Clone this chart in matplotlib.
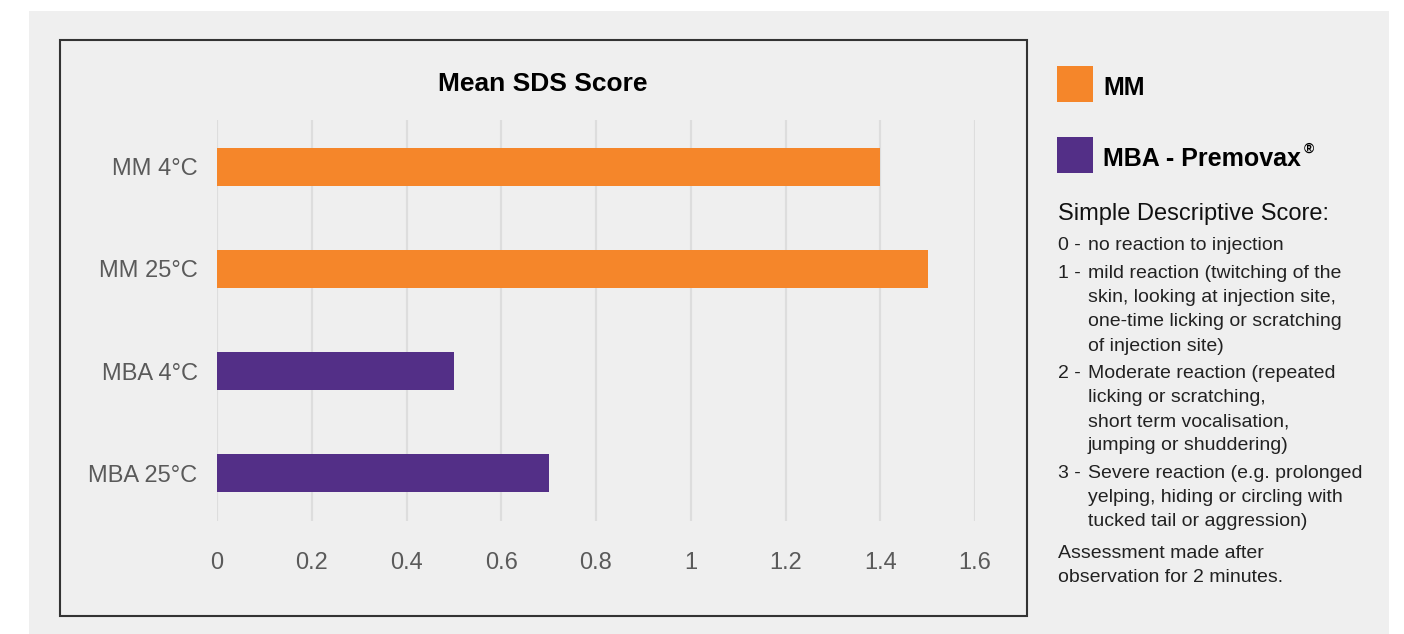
import matplotlib
matplotlib.use("Agg")
import matplotlib.pyplot as plt
from matplotlib.patches import Rectangle

plt.rcParams['font.family'] = ['Liberation Sans', 'DejaVu Sans']

# data
categories = ['MM 4°C', 'MM 25°C', 'MBA 4°C', 'MBA 25°C']
scores = [1.40, 1.50, 0.50, 0.70]
groups = ['MM', 'MM', 'MBA', 'MBA']
x_ticks = [0, 0.2, 0.4, 0.6, 0.8, 1.0, 1.2, 1.4, 1.6]
x_tick_labels = ['0', '0.2', '0.4', '0.6', '0.8', '1', '1.2', '1.4', '1.6']
legend_labels = {'MM': 'MM', 'MBA': 'MBA - Premovax'}
colors = {'MM': '#F5862A', 'MBA': '#532F87'}
score_title = 'Simple Descriptive Score:'
score_notes = [
    ('0 -', ['no reaction to injection']),
    ('1 -', ['mild reaction (twitching of the', 'skin, looking at injection site,',
             'one-time licking or scratching', 'of injection site)']),
    ('2 -', ['Moderate reaction (repeated', 'licking or scratching,',
             'short term vocalisation,', 'jumping or shuddering)']),
    ('3 -', ['Severe reaction (e.g. prolonged', 'yelping, hiding or circling with',
             'tucked tail or aggression)']),
]
footnote = ['Assessment made after', 'observation for 2 minutes.']

W, H = 1404, 634
fig = plt.figure(figsize=(W / 100, H / 100), dpi=100, facecolor='white')

def px(x, y):
    return x / W, 1 - y / H

# gray panel + chart box
fig.patches.append(Rectangle((29 / W, 0), 1360 / W, 623 / H, transform=fig.transFigure,
                             facecolor='#EFEFEF', edgecolor='none', zorder=-5))
fig.patches.append(Rectangle((60 / W, 18 / H), 967 / W, 576 / H, transform=fig.transFigure,
                             facecolor='none', edgecolor='#333333', linewidth=1.5, zorder=-4))

ax = fig.add_axes([217 / W, 113 / H, 758 / W, 401 / H])
ax.set_zorder(2)
ax.set_facecolor('none')
ypos = list(range(len(categories)))
ax.barh(ypos, scores, height=0.37, color=[colors[g] for g in groups], zorder=3)
ax.set_xlim(0, 1.6)
ax.set_ylim(3.47, -0.46)
ax.set_xticks(x_ticks)
ax.set_xticklabels(x_tick_labels)
ax.set_yticks(ypos)
ax.set_yticklabels(categories)
ax.tick_params(length=0, labelsize=17, labelcolor='#5A5A5A')
ax.tick_params(axis='x', pad=22)
ax.tick_params(axis='y', pad=14)
ax.grid(axis='x', color='#DDDDDD', linewidth=1.6, zorder=0)
ax.set_axisbelow(True)
for s in ax.spines.values():
    s.set_visible(False)

fig.text(*px(543, 84), 'Mean SDS Score', ha='center', va='center',
         fontsize=19, fontweight='bold', color='black')

# legend
for i, g in enumerate(['MM', 'MBA']):
    y0 = 66 + i * 71
    fig.patches.append(Rectangle(px(1057, y0 + 36), 36 / W, 36 / H, transform=fig.transFigure,
                                 facecolor=colors[g], edgecolor='none'))
    fig.text(*px(1103, y0 + 22), legend_labels[g], ha='left', va='center',
             fontsize=18, fontweight='bold', color='black')
fig.text(*px(1304, 149), '®', ha='left', va='center', fontsize=10,
         fontweight='bold', color='black')

fig.text(*px(1058, 214), score_title, ha='left', va='center', fontsize=17, color='#111111')

y = 246
for num, lines in score_notes:
    fig.text(*px(1058, y), num, ha='left', va='center', fontsize=14, color='#222222')
    for ln in lines:
        fig.text(*px(1088, y), ln, ha='left', va='center', fontsize=14, color='#222222')
        y += 24
    y += 4
y += 3
for ln in footnote:
    fig.text(*px(1058, y), ln, ha='left', va='center', fontsize=14, color='#222222')
    y += 24

fig.savefig('out.png', dpi=100, facecolor='white')
